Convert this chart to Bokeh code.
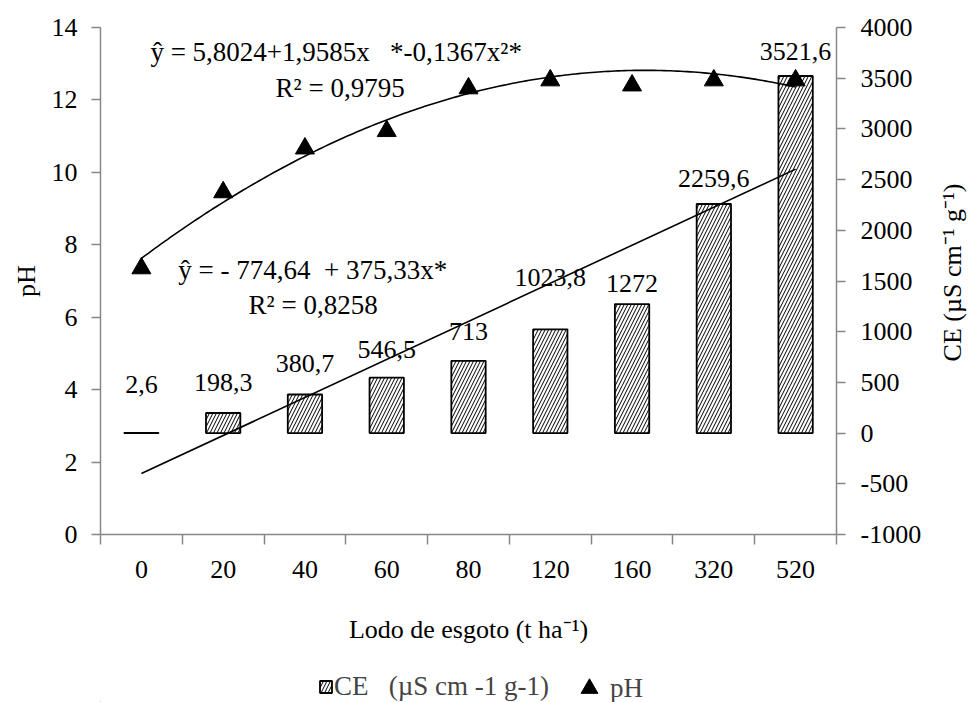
import numpy as np
from bokeh.plotting import figure
from bokeh.layouts import column, row
from bokeh.models import (Range1d, LinearAxis, FixedTicker, ColumnDataSource, Label,
                          Legend, LegendItem)
from bokeh.embed import file_html
from bokeh.resources import INLINE
from bokeh.core.properties import value

# ---------------- data ----------------
doses = ["0", "20", "40", "60", "80", "120", "160", "320", "520"]
ce_values = [2.6, 198.3, 380.7, 546.5, 713, 1023.8, 1272, 2259.6, 3521.6]
ce_labels = ["2,6", "198,3", "380,7", "546,5", "713", "1023,8", "1272", "2259,6", "3521,6"]
ph_values = [7.35, 9.45, 10.66, 11.14, 12.32, 12.54, 12.40, 12.54, 12.54]
ph_fit_coef = [5.8024, 1.9585, -0.1367]     # y = a + b x + c x^2 (x = treatment order 1..9)
ce_fit_coef = [-774.64, 375.33]             # y = a + b x
ph_ticks = [0, 2, 4, 6, 8, 10, 12, 14]
ce_ticks = [-1000, -500, 0, 500, 1000, 1500, 2000, 2500, 3000, 3500, 4000]
NB = "\u00a0"
eq_ph = "ŷ = 5,8024+1,9585x" + NB * 3 + "*-0,1367x²*"
r2_ph = "R² = 0,9795"
eq_ce = "ŷ = - 774,64" + NB * 2 + "+ 375,33x*"
r2_ce = "R² = 0,8258"
ce_legend = "CE" + NB * 3 + "(µS cm -1 g-1)"
ph_legend = "pH"
x_title = "Lodo de esgoto (t ha⁻¹)"
y_title = "pH"
y2_title = "CE (µS cm⁻¹ g⁻¹)"

# label offsets (pixels above bar top), style only
label_dy = [-48, -30, -31, -28, -29, -52, -21, -25, -25]

FONT = "Liberation Serif"
FS = "26px"
AXIS_COLOR = "#878787"

n = len(doses)
centers = [i + 0.5 for i in range(n)]
bounds = list(range(n + 1))

TOTAL_W, TOTAL_H = 971, 702
SIDE_W = 36                      # strip on the right for the CE title
MAIN_W = TOTAL_W - SIDE_W
MAIN_H = 652
LEG_H = TOTAL_H - MAIN_H

p = figure(width=MAIN_W, height=MAIN_H, x_range=Range1d(0, n), y_range=Range1d(0, 14),
           output_backend="svg", toolbar_location=None,
           min_border_left=100, min_border_right=MAIN_W - 836, min_border_top=27,
           min_border_bottom=MAIN_H - 534)
p.extra_y_ranges = {"ce": Range1d(-1000, 4000)}
p.outline_line_color = None
p.xgrid.visible = False
p.ygrid.visible = False
p.background_fill_color = "white"

def style_axis(ax):
    ax.axis_line_color = AXIS_COLOR
    ax.axis_line_width = 1.5
    ax.major_tick_line_color = AXIS_COLOR
    ax.major_tick_line_width = 1.5
    ax.minor_tick_line_color = AXIS_COLOR
    ax.minor_tick_line_width = 1.5
    ax.major_label_text_font = FONT
    ax.major_label_text_font_size = FS
    ax.major_label_text_color = "black"
    ax.axis_label_text_font = FONT
    ax.axis_label_text_font_size = FS
    ax.axis_label_text_font_style = "normal"
    ax.axis_label_text_color = "black"

# bottom axis: labels at centres, ticks at category boundaries
xa = p.xaxis[0]
style_axis(xa)
xa.ticker = FixedTicker(ticks=centers, minor_ticks=bounds)
xa.major_label_overrides = {c: d for c, d in zip(centers, doses)}
xa.major_tick_out = 0
xa.major_tick_in = 0
xa.minor_tick_out = 10
xa.minor_tick_in = 0
xa.major_label_standoff = 16
xa.axis_label = x_title
xa.axis_label_standoff = 34

# left axis pH
ya = p.yaxis[0]
style_axis(ya)
ya.ticker = FixedTicker(ticks=ph_ticks)
ya.major_tick_out = 9
ya.major_tick_in = 0
ya.minor_tick_out = 0
ya.minor_tick_in = 0
ya.major_label_standoff = 14
ya.axis_label = y_title
ya.axis_label_standoff = 8

# right axis CE (its title sits in the side strip, reading bottom to top)
ra = LinearAxis(y_range_name="ce", ticker=FixedTicker(ticks=ce_ticks))
style_axis(ra)
ra.major_tick_out = 9
ra.major_tick_in = 0
ra.minor_tick_out = 0
ra.minor_tick_in = 0
ra.major_label_standoff = 15
ra.major_label_overrides = {t: str(t) for t in ce_ticks if t < 0}
p.add_layout(ra, "right")

# bars
src = ColumnDataSource(dict(x=centers, top=ce_values, lab=ce_labels, dy=label_dy))
bar_style = dict(fill_color="white", line_color="black", line_width=1.8,
                 hatch_pattern="/", hatch_color="black", hatch_scale=7, hatch_weight=1)
bars = p.vbar(x="x", top="top", bottom=0, width=0.42, source=src, y_range_name="ce",
              **bar_style)

p.text(x="x", y="top", text="lab", y_offset="dy", source=src, y_range_name="ce",
       text_align="center", text_baseline="middle", text_font=value(FONT),
       text_font_size=FS, text_color="black")

# trend lines
xs = np.linspace(1, n, 200)
ph_fit = ph_fit_coef[0] + ph_fit_coef[1] * xs + ph_fit_coef[2] * xs ** 2
p.line(xs - 0.5, ph_fit, line_color="black", line_width=1.6)
xl = np.array([1, n])
ce_fit = ce_fit_coef[0] + ce_fit_coef[1] * xl
p.line(xl - 0.5, ce_fit, line_color="black", line_width=1.6, y_range_name="ce")

# pH markers
tri = p.scatter(centers, ph_values, marker="triangle", size=19, fill_color="black",
                line_color="black")

# equations
for txt, x, y, al in [(eq_ph, 0.61, 13.31, "left"), (r2_ph, 2.93, 12.32, "center"),
                      (eq_ce, 0.95, 7.29, "left"), (r2_ce, 2.60, 6.35, "center")]:
    p.add_layout(Label(x=x, y=y, text=txt, text_align=al, text_baseline="middle",
                       text_font=FONT, text_font_size="27px", text_color="black"))

# ---------------- legend strip ----------------
q = figure(width=MAIN_W, height=LEG_H, x_range=Range1d(0, MAIN_W), y_range=Range1d(0, LEG_H),
           output_backend="svg", toolbar_location=None, min_border=0,
           x_axis_location=None, y_axis_location=None)
q.outline_line_color = None
q.xgrid.visible = False
q.ygrid.visible = False
leg_bar = q.vbar(x=[-100], top=[-100], bottom=-101, width=1, **bar_style)
leg_tri = q.scatter([-100], [-100], marker="triangle", size=19, fill_color="black",
                    line_color="black")

# the strip's frame is aligned with the main frame (left edge at 100 px)
leg1 = Legend(items=[LegendItem(label=ce_legend, renderers=[leg_bar])],
              location=(218, 0), border_line_color=None, background_fill_alpha=0,
              label_text_font=FONT, label_text_font_size="27px",
              glyph_width=15, glyph_height=15, label_standoff=1,
              padding=0, margin=0)
leg2 = Legend(items=[LegendItem(label=ph_legend, renderers=[leg_tri])],
              location=(468, -7), border_line_color=None, background_fill_alpha=0,
              label_text_font=FONT, label_text_font_size="27px",
              glyph_width=42, glyph_height=42, label_standoff=0,
              padding=0, margin=0)
q.add_layout(leg1)
q.add_layout(leg2)

# ---------------- side strip with the right axis title ----------------
r = figure(width=SIDE_W, height=TOTAL_H, x_range=Range1d(0, SIDE_W),
           y_range=Range1d(0, TOTAL_H), output_backend="svg", toolbar_location=None,
           min_border=0, x_axis_location=None, y_axis_location=None)
r.outline_line_color = None
r.xgrid.visible = False
r.ygrid.visible = False
r.add_layout(Label(x=952 - MAIN_W, y=TOTAL_H - 272, text=y2_title, angle=np.pi / 2,
                   text_align="center", text_baseline="middle", text_font=FONT,
                   text_font_size=FS, text_color="black"))

layout = row(column(p, q, spacing=0), r, spacing=0)
open("out.html", "w").write(file_html(layout, INLINE))
